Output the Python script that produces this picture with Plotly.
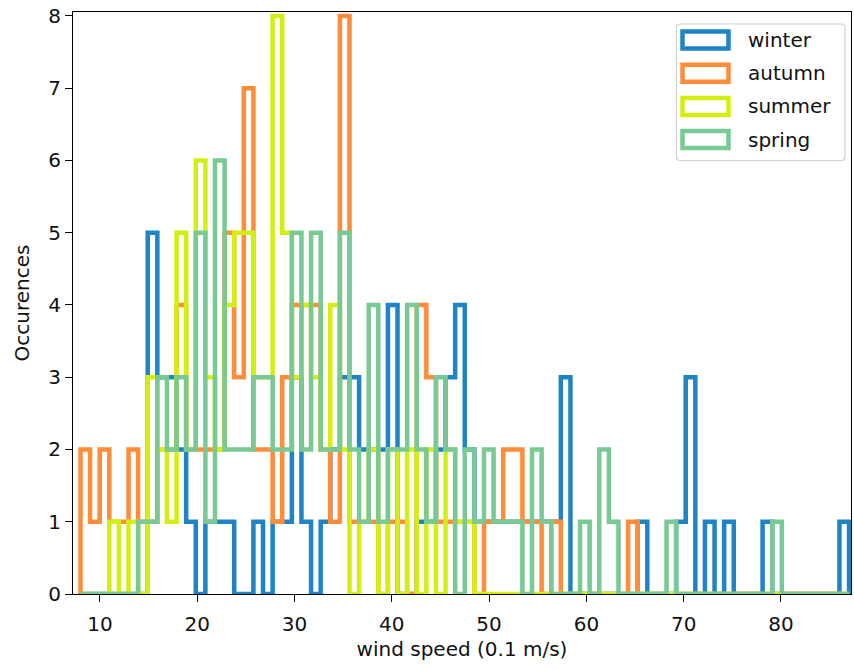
import numpy as np
import plotly.graph_objects as go

# Histogram bins shared by all seasons (wind speed in 0.1 m/s)
BIN_MIN, BIN_MAX, N_BINS = 8, 87, 80

seasons = ["winter", "autumn", "summer", "spring"]
colors = ["#1f84c6", "#ff8c38", "#d4ee12", "#78c993"]

# Counts per bin, one list per season
winter = [0, 0, 0, 0, 0, 0, 0, 5, 3, 3,
          2, 1, 0, 1, 1, 1, 0, 0, 1, 0,
          1, 1, 3, 1, 0, 1, 2, 3, 3, 2,
          2, 2, 4, 0, 0, 1, 1, 2, 3, 4,
          2, 1, 1, 1, 1, 1, 1, 1, 1, 1,
          3, 0, 0, 0, 0, 0, 0, 0, 1, 0,
          0, 0, 1, 3, 0, 1, 0, 1, 0, 0,
          0, 1, 0, 0, 0, 0, 0, 0, 0, 1]
autumn = [2, 1, 2, 1, 1, 2, 1, 1, 2, 2,
          4, 2, 2, 2, 2, 5, 3, 7, 2, 2,
          1, 3, 4, 4, 4, 2, 1, 8, 1, 1,
          1, 0, 1, 1, 0, 4, 3, 1, 1, 1,
          1, 0, 1, 1, 2, 2, 1, 1, 0, 1,
          0, 0, 0, 0, 0, 0, 0, 1, 0, 0,
          0, 0, 0, 0, 0, 0, 0, 0, 0, 0,
          0, 0, 0, 0, 0, 0, 0, 0, 0, 0]
summer = [0, 0, 0, 1, 0, 1, 0, 3, 2, 1,
          5, 2, 6, 3, 2, 4, 5, 5, 3, 3,
          8, 5, 3, 4, 3, 2, 4, 2, 0, 1,
          2, 0, 2, 0, 2, 0, 2, 0, 2, 1,
          1, 0, 0, 0, 0, 0, 0, 0, 0, 0,
          0, 0, 0, 0, 0, 0, 0, 0, 0, 0,
          0, 0, 0, 0, 0, 0, 0, 0, 0, 0,
          0, 0, 0, 0, 0, 0, 0, 0, 0, 0]
spring = [0, 0, 0, 0, 0, 0, 1, 1, 3, 2,
          3, 2, 5, 1, 6, 2, 2, 2, 3, 3,
          2, 2, 5, 2, 5, 2, 2, 5, 2, 1,
          4, 1, 2, 2, 4, 2, 1, 3, 2, 0,
          2, 1, 2, 1, 1, 1, 0, 2, 1, 0,
          0, 0, 1, 0, 2, 1, 0, 0, 0, 0,
          0, 1, 0, 0, 0, 0, 0, 0, 0, 0,
          0, 0, 1, 0, 0, 0, 0, 0, 0, 0]

counts = [winter, autumn, summer, spring]

x_ticks = [10, 20, 30, 40, 50, 60, 70, 80]
y_ticks = [0, 1, 2, 3, 4, 5, 6, 7, 8]

edges = np.linspace(BIN_MIN, BIN_MAX, N_BINS + 1)

FONT = "DejaVu Sans"
W, H = 854, 669
ML, MR, MT, MB = 73, 3, 12, 75
PW, PH = W - ML - MR, H - MT - MB
LW = 4.5


def px_x(px):
    return (px - ML) / PW


def px_y(py):
    return 1 - (py - MT) / PH


fig = go.Figure()

# step outlines, like histtype="step"
for name, col, c in zip(seasons, colors, counts):
    xs = [edges[0]] + list(edges[:-1]) + [edges[-1]]
    ys = [0] + list(c) + [0]
    fig.add_trace(go.Scatter(
        x=xs, y=ys, mode="lines", name=name,
        line=dict(color=col, width=LW, shape="hv"),
        showlegend=False, hoverinfo="skip",
    ))

# legend frame (rounded box) drawn in paper coordinates
bx0, bx1, by0, by1, r = 676.5, 845.0, 24.0, 160.5, 4.0
path = (
    f"M {px_x(bx0 + r)},{px_y(by0)} L {px_x(bx1 - r)},{px_y(by0)} "
    f"Q {px_x(bx1)},{px_y(by0)} {px_x(bx1)},{px_y(by0 + r)} "
    f"L {px_x(bx1)},{px_y(by1 - r)} "
    f"Q {px_x(bx1)},{px_y(by1)} {px_x(bx1 - r)},{px_y(by1)} "
    f"L {px_x(bx0 + r)},{px_y(by1)} "
    f"Q {px_x(bx0)},{px_y(by1)} {px_x(bx0)},{px_y(by1 - r)} "
    f"L {px_x(bx0)},{px_y(by0 + r)} "
    f"Q {px_x(bx0)},{px_y(by0)} {px_x(bx0 + r)},{px_y(by0)} Z"
)
shapes = [dict(type="path", path=path, xref="paper", yref="paper",
               line=dict(color="#d0d0d0", width=1.2),
               fillcolor="rgba(255,255,255,0.85)", layer="above")]
annotations = []
row0, pitch = 40.0, 33.2
for i, (name, col) in enumerate(zip(seasons, colors)):
    cy = row0 + i * pitch
    shapes.append(dict(
        type="rect", xref="paper", yref="paper",
        x0=px_x(682.5), x1=px_x(728.5),
        y0=px_y(cy - 8.5), y1=px_y(cy + 8.5),
        line=dict(color=col, width=LW), fillcolor="white", layer="above",
    ))
    annotations.append(dict(
        text=name, xref="paper", yref="paper",
        x=px_x(746), y=px_y(cy), xanchor="left", yanchor="middle",
        showarrow=False, font=dict(family=FONT, size=20, color="#111"),
    ))

axis_common = dict(
    showline=True, mirror=True, linecolor="black", linewidth=1.2,
    ticks="outside", ticklen=7, tickwidth=1.2, tickcolor="black",
    showgrid=False, zeroline=False,
    tickfont=dict(family=FONT, size=20, color="#111"),
)

fig.update_layout(
    width=W, height=H,
    margin=dict(l=ML, r=MR, t=MT, b=MB),
    paper_bgcolor="white", plot_bgcolor="white",
    xaxis=dict(range=[7.23, 87.2], tickvals=x_ticks, ticklabelstandoff=5,
               title=dict(text="wind speed (0.1 m/s)", standoff=6,
                          font=dict(family=FONT, size=20, color="#111")),
               **axis_common),
    yaxis=dict(range=[0, 8.055], tickvals=y_ticks,
               title=dict(text="Occurences", standoff=13,
                          font=dict(family=FONT, size=20, color="#111")),
               **axis_common),
    shapes=shapes, annotations=annotations,
    showlegend=False,
)

fig.write_html("out.html")
